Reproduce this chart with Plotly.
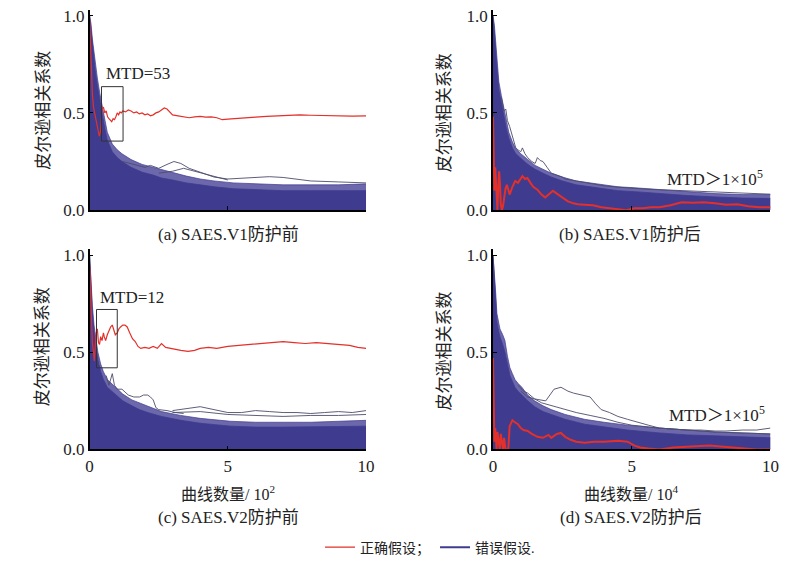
import plotly.graph_objects as go

# ---------------- data ----------------
# Panel (a): SAES.V1 before protection, x in 10^2 traces
A_env_x = [0, 0.05, 0.1, 0.2, 0.28, 0.37, 0.46, 0.55, 0.64, 0.82, 1.0, 1.17, 1.5, 1.9, 2.3, 2.6, 3.0, 3.5, 4.0, 4.5, 5.2, 6.0, 7.0, 8.0, 9.0, 10]
A_loose_y = [1.0, 0.96, 0.88, 0.76, 0.68, 0.6, 0.53, 0.46, 0.40, 0.34, 0.31, 0.29, 0.26, 0.235, 0.22, 0.205, 0.19, 0.175, 0.16, 0.15, 0.14, 0.135, 0.13, 0.13, 0.13, 0.135]
A_dense_y = [1.0, 0.93, 0.84, 0.72, 0.64, 0.56, 0.49, 0.42, 0.36, 0.30, 0.27, 0.25, 0.22, 0.195, 0.18, 0.165, 0.155, 0.14, 0.13, 0.12, 0.11, 0.105, 0.10, 0.10, 0.10, 0.10]
A_out1_x = [1.2, 1.6, 2.0, 2.2, 2.5, 2.8, 3.05, 3.3, 3.6, 4.0, 4.5, 5.0, 5.5, 6.0, 6.5, 7.0, 7.5, 8.0, 9.0, 10]
A_out1_y = [0.25, 0.235, 0.22, 0.23, 0.215, 0.235, 0.25, 0.24, 0.215, 0.195, 0.17, 0.16, 0.165, 0.17, 0.172, 0.168, 0.16, 0.15, 0.145, 0.14]
A_out2_x = [2.5, 3.0, 3.4, 3.8, 4.2, 4.6, 5.0]
A_out2_y = [0.19, 0.2, 0.215, 0.2, 0.185, 0.17, 0.155]
A_red_x = [0, 0.03, 0.06, 0.1, 0.14, 0.18, 0.22, 0.26, 0.3, 0.35, 0.4, 0.45, 0.5, 0.55, 0.6, 0.65, 0.7, 0.75, 0.8, 0.85,
           0.9, 0.95, 1.0, 1.05, 1.1, 1.15, 1.2, 1.3, 1.4, 1.5, 1.6, 1.7, 1.8, 1.9, 2.0, 2.1, 2.2, 2.3, 2.4, 2.5,
           2.6, 2.7, 2.8, 2.9, 3.0, 3.2, 3.4, 3.6, 3.8, 4.0, 4.2, 4.4, 4.6, 4.8, 5.0, 5.3, 5.6, 6.0, 6.4, 6.8,
           7.2, 7.6, 8.0, 8.5, 9.0, 9.5, 10]
A_red_y = [0.98, 0.85, 0.72, 0.60, 0.53, 0.50, 0.47, 0.44, 0.40, 0.38, 0.41, 0.52, 0.53, 0.50, 0.51, 0.48, 0.47, 0.46, 0.455, 0.47,
           0.465, 0.48, 0.50, 0.49, 0.505, 0.50, 0.51, 0.505, 0.515, 0.51, 0.50, 0.505, 0.495, 0.50, 0.49, 0.495, 0.485, 0.49, 0.50, 0.505,
           0.515, 0.525, 0.52, 0.505, 0.49, 0.485, 0.48, 0.475, 0.48, 0.482, 0.478, 0.48, 0.475, 0.465, 0.468, 0.472, 0.475, 0.478, 0.482, 0.485,
           0.488, 0.49, 0.488, 0.486, 0.484, 0.483, 0.485]

# Panel (b): SAES.V1 after protection, x in 10^4 traces
B_env_x = [0, 0.05, 0.1, 0.15, 0.21, 0.3, 0.39, 0.48, 0.57, 0.7, 0.82, 1.0, 1.17, 1.35, 1.52, 1.8, 2.1, 2.5, 3.0, 3.5, 4.0, 4.5, 5.1, 6.0, 7.0, 8.0, 9.0, 10]
B_loose_y = [1.0, 0.95, 0.86, 0.76, 0.66, 0.59, 0.53, 0.46, 0.40, 0.35, 0.315, 0.29, 0.27, 0.25, 0.23, 0.21, 0.19, 0.17, 0.15, 0.14, 0.13, 0.12, 0.115, 0.105, 0.095, 0.085, 0.08, 0.08]
B_dense_y = [1.0, 0.92, 0.82, 0.72, 0.62, 0.55, 0.49, 0.42, 0.37, 0.32, 0.29, 0.265, 0.245, 0.225, 0.21, 0.19, 0.17, 0.15, 0.13, 0.12, 0.11, 0.10, 0.095, 0.085, 0.075, 0.068, 0.062, 0.06]
B_out1_x = [0.3, 0.39, 0.46, 0.52, 0.6, 0.7, 0.82, 0.9, 1.0, 1.06, 1.15, 1.25, 1.4, 1.52, 1.6, 1.7, 1.8, 1.95, 2.1, 2.3, 2.5, 2.6, 2.8, 3.0, 3.5,
            4.0, 4.5, 5.0, 5.5, 6.0, 6.5, 7.0, 7.5, 8.0, 8.5, 9.0, 9.5, 10]
B_out1_y = [0.58, 0.51, 0.52, 0.46, 0.43, 0.38, 0.32, 0.31, 0.30, 0.32, 0.29, 0.27, 0.25, 0.24, 0.27, 0.255, 0.25, 0.22, 0.19, 0.18, 0.17, 0.16, 0.155, 0.15, 0.135,
            0.125, 0.118, 0.112, 0.108, 0.105, 0.102, 0.10, 0.097, 0.094, 0.09, 0.088, 0.085, 0.082]
B_red_x = [0, 0.02, 0.05, 0.08, 0.1, 0.13, 0.16, 0.19, 0.22, 0.25, 0.28, 0.32, 0.36, 0.4, 0.45, 0.5, 0.55, 0.6, 0.7, 0.8,
           0.9, 1.0, 1.06, 1.15, 1.24, 1.35, 1.45, 1.6, 1.75, 1.88, 2.0, 2.16, 2.3, 2.5, 2.7, 2.9, 3.05, 3.3, 3.6, 3.9,
           4.2, 4.5, 4.8, 5.1, 5.4, 5.7, 6.0, 6.4, 6.8, 7.2, 7.6, 8.0, 8.4, 8.8, 9.2, 9.6, 10]
B_red_y = [0.48, 0.25, 0.10, 0.22, 0.16, 0.04, 0.0, 0.12, 0.20, 0.14, 0.03, 0.0, 0.02, 0.06, 0.11, 0.13, 0.10, 0.08, 0.12, 0.15,
           0.14, 0.165, 0.175, 0.16, 0.165, 0.14, 0.12, 0.105, 0.08, 0.065, 0.08, 0.10, 0.085, 0.065, 0.045, 0.035, 0.03, 0.028, 0.025, 0.015,
           0.01, 0.005, 0.0, 0.01, 0.01, 0.015, 0.015, 0.025, 0.04, 0.038, 0.04, 0.035, 0.028, 0.03, 0.02, 0.015, 0.015]

# Panel (c): SAES.V2 before protection, x in 10^2 traces
C_env_x = [0, 0.05, 0.1, 0.16, 0.22, 0.3, 0.4, 0.5, 0.64, 0.8, 0.93, 1.2, 1.53, 1.8, 2.1, 2.6, 3.3, 4.0, 5.1, 6.0, 7.0, 8.0, 9.0, 10]
C_loose_y = [1.0, 0.86, 0.74, 0.64, 0.57, 0.50, 0.44, 0.40, 0.36, 0.34, 0.32, 0.285, 0.255, 0.24, 0.22, 0.195, 0.175, 0.16, 0.145, 0.14, 0.14, 0.14, 0.145, 0.15]
C_dense_y = [1.0, 0.83, 0.70, 0.60, 0.53, 0.46, 0.40, 0.36, 0.32, 0.30, 0.28, 0.25, 0.225, 0.205, 0.19, 0.17, 0.15, 0.135, 0.12, 0.115, 0.115, 0.115, 0.118, 0.12]
C_out1_x = [0.6, 0.7, 0.82, 0.9, 1.0, 1.17, 1.4, 1.6, 1.81, 1.95, 2.1, 2.2, 2.3, 2.4, 2.5, 2.8, 3.1, 3.4]
C_out1_y = [0.38, 0.33, 0.39, 0.33, 0.31, 0.31, 0.28, 0.27, 0.27, 0.28, 0.28, 0.27, 0.255, 0.215, 0.205, 0.2, 0.19, 0.185]
C_out2_x = [3.0, 3.5, 4.0, 4.5, 5.0, 5.5, 6.0, 6.5, 7.0, 7.5, 8.0, 8.5, 9.0, 9.5, 10]
C_out2_y = [0.20, 0.21, 0.22, 0.205, 0.19, 0.19, 0.20, 0.195, 0.19, 0.19, 0.185, 0.19, 0.195, 0.19, 0.20]
C_out3_x = [3.0, 4.0, 5.0, 6.0, 7.0, 8.0, 9.0, 10]
C_out3_y = [0.19, 0.195, 0.18, 0.175, 0.17, 0.175, 0.175, 0.18]
C_red_x = [0, 0.03, 0.06, 0.1, 0.14, 0.17, 0.2, 0.24, 0.28, 0.32, 0.36, 0.4, 0.45, 0.5, 0.53, 0.58, 0.64, 0.7, 0.76, 0.82,
           0.88, 0.93, 1.0, 1.06, 1.12, 1.2, 1.28, 1.36, 1.45, 1.55, 1.65, 1.75, 1.85, 2.0, 2.15, 2.3, 2.45, 2.6, 2.75, 2.9,
           3.1, 3.3, 3.56, 3.8, 4.0, 4.3, 4.6, 5.0, 5.4, 5.8, 6.2, 6.6, 7.0, 7.4, 7.8, 8.2, 8.6, 9.0, 9.4, 9.7, 10]
C_red_y = [0.95, 0.80, 0.66, 0.55, 0.50, 0.455, 0.52, 0.60, 0.62, 0.55, 0.54, 0.58, 0.56, 0.60, 0.58, 0.56, 0.59, 0.61, 0.63, 0.64,
           0.61, 0.59, 0.60, 0.62, 0.63, 0.64, 0.64, 0.63, 0.60, 0.57, 0.555, 0.53, 0.52, 0.525, 0.52, 0.53, 0.52, 0.545, 0.525, 0.52,
           0.515, 0.51, 0.505, 0.51, 0.52, 0.525, 0.52, 0.53, 0.535, 0.54, 0.545, 0.55, 0.555, 0.55, 0.545, 0.55, 0.545, 0.54, 0.535, 0.525, 0.52]

# Panel (d): SAES.V2 after protection, x in 10^4 traces
D_env_x = [0, 0.05, 0.1, 0.14, 0.2, 0.25, 0.35, 0.43, 0.52, 0.61, 0.7, 0.79, 0.9, 1.04, 1.25, 1.5, 1.8, 2.1, 2.6, 3.3, 4.0, 4.85, 6.0, 7.0, 8.0, 9.0, 10]
D_loose_y = [1.0, 0.92, 0.80, 0.70, 0.65, 0.62, 0.59, 0.56, 0.48, 0.42, 0.39, 0.36, 0.34, 0.32, 0.28, 0.25, 0.225, 0.205, 0.18, 0.155, 0.14, 0.125, 0.11, 0.10, 0.09, 0.085, 0.08]
D_dense_y = [1.0, 0.88, 0.75, 0.66, 0.61, 0.58, 0.54, 0.50, 0.44, 0.38, 0.35, 0.32, 0.30, 0.28, 0.25, 0.22, 0.195, 0.18, 0.155, 0.13, 0.115, 0.10, 0.085, 0.075, 0.07, 0.065, 0.06]
D_out1_x = [1.0, 1.25, 1.5, 1.75, 1.9, 2.0, 2.1, 2.2, 2.45, 2.7, 2.9, 3.2, 3.5, 3.7, 3.9, 4.2, 4.5, 4.85, 5.2, 5.6, 6.0, 6.5, 7.0, 7.5, 8.0, 8.4, 9.0, 9.5, 10]
D_out1_y = [0.30, 0.27, 0.26, 0.255, 0.25, 0.27, 0.29, 0.31, 0.32, 0.30, 0.29, 0.28, 0.27, 0.235, 0.205, 0.19, 0.17, 0.155, 0.14, 0.125, 0.11, 0.105, 0.10, 0.10, 0.095, 0.095, 0.10, 0.10, 0.11]
D_out2_x = [0.9, 1.1, 1.25, 1.5, 1.75, 2.0, 2.5, 3.0, 3.5, 4.0, 4.5, 5.0, 6.0, 7.0, 8.0, 9.0, 10]
D_out2_y = [0.33, 0.30, 0.29, 0.26, 0.24, 0.23, 0.21, 0.19, 0.175, 0.16, 0.14, 0.125, 0.11, 0.10, 0.09, 0.085, 0.08]
D_red_x = [0, 0.02, 0.05, 0.08, 0.1, 0.13, 0.16, 0.2, 0.24, 0.28, 0.32, 0.36, 0.4, 0.45, 0.5, 0.55, 0.6, 0.7, 0.79, 0.9,
           1.0, 1.1, 1.25, 1.4, 1.6, 1.8, 2.0, 2.1, 2.3, 2.45, 2.6, 2.8, 3.0, 3.3, 3.65, 4.0, 4.5, 4.85, 5.1, 5.3,
           5.6, 6.0, 6.5, 7.0, 7.5, 7.8, 8.2, 8.6, 9.0, 9.5, 10]
D_red_y = [0.47, 0.12, 0.04, 0.11, 0.07, 0.0, 0.09, 0.05, 0.0, 0.08, 0.03, 0.0, 0.06, 0.0, 0.0, 0.0, 0.12, 0.15, 0.14, 0.13,
           0.11, 0.10, 0.095, 0.08, 0.065, 0.06, 0.075, 0.06, 0.08, 0.085, 0.065, 0.05, 0.04, 0.035, 0.04, 0.04, 0.045, 0.04, 0.02, 0.01,
           0.005, 0.0, 0.01, 0.015, 0.02, 0.02, 0.015, 0.01, 0.005, 0.0, 0.0]

# highlight boxes (MTD regions) and labels
A_box = (0.43, 1.21, 0.355, 0.635)
C_box = (0.25, 1.0, 0.42, 0.72)
A_mtd = ("MTD=53", 1.74, 0.705)
B_mtd = ("MTD\uff1e1\u00d710<sup>5</sup>", 8.0, 0.165)
C_mtd = ("MTD=12", 1.53, 0.78)
D_mtd = ("MTD\uff1e1\u00d710<sup>5</sup>", 8.06, 0.18)

captions = ["(a) SAES.V1防护前", "(b) SAES.V1防护后", "(c) SAES.V2防护前", "(d) SAES.V2防护后"]
ylabel = "皮尔逊相关系数"
xlabels = ["曲线数量/ 10<sup>2</sup>", "曲线数量/ 10<sup>4</sup>"]
y_ticks = [0, 0.5, 1.0]
y_ticktext = ["0.0", "0.5", "1.0"]
x_ticks = [0, 5, 10]
legend_names = ["正确假设；", "错误假设."]

# ---------------- styling ----------------
W, H = 808, 565
FONT = '"Liberation Serif", "Times New Roman", "Noto Sans CJK SC", serif'
BLUE = "#3f3c90"
BLUE_LOOSE = "rgba(66,62,148,0.78)"
OUT = "#4c4c6c"
RED = "#e3302a"

fig = go.Figure()

panels = [
    ("x", "y", A_env_x, A_loose_y, A_dense_y, [(A_out1_x, A_out1_y), (A_out2_x, A_out2_y)], A_red_x, A_red_y, 1.2),
    ("x2", "y2", B_env_x, B_loose_y, B_dense_y, [(B_out1_x, B_out1_y)], B_red_x, B_red_y, 2.0),
    ("x3", "y3", C_env_x, C_loose_y, C_dense_y, [(C_out1_x, C_out1_y), (C_out2_x, C_out2_y), (C_out3_x, C_out3_y)], C_red_x, C_red_y, 1.2),
    ("x4", "y4", D_env_x, D_loose_y, D_dense_y, [(D_out1_x, D_out1_y), (D_out2_x, D_out2_y)], D_red_x, D_red_y, 2.0),
]

for i, (xa, ya, ex, ly, dy, outs, rx, ry, rw) in enumerate(panels):
    fig.add_trace(go.Scatter(x=ex, y=ly, xaxis=xa, yaxis=ya, mode="lines", fill="tozeroy",
                             fillcolor=BLUE_LOOSE, line=dict(color="rgba(66,62,148,0.9)", width=0.8),
                             showlegend=False, hoverinfo="skip"))
    fig.add_trace(go.Scatter(x=ex, y=dy, xaxis=xa, yaxis=ya, mode="lines", fill="tozeroy",
                             fillcolor=BLUE, line=dict(color=BLUE, width=0.8),
                             showlegend=False, hoverinfo="skip"))
    for ox, oy in outs:
        fig.add_trace(go.Scatter(x=ox, y=oy, xaxis=xa, yaxis=ya, mode="lines",
                                 line=dict(color=OUT, width=0.9), showlegend=False, hoverinfo="skip"))
    fig.add_trace(go.Scatter(x=rx, y=ry, xaxis=xa, yaxis=ya, mode="lines",
                             line=dict(color=RED, width=rw), name=legend_names[0],
                             showlegend=(i == 0), legendrank=1))

fig.add_trace(go.Scatter(x=[None], y=[None], mode="lines", line=dict(color=BLUE, width=2),
                         name=legend_names[1], showlegend=True, legendrank=2))

xdomL = [87 / W, 368 / W]
xdomR = [497 / W, 779 / W]
ydomT = [(H - 212) / H, (H - 7) / H]
ydomB = [(H - 457) / H, (H - 252) / H]

axis_common = dict(showline=True, linecolor="black", linewidth=1.5, ticks="inside", ticklen=4,
                   tickcolor="black", showgrid=False, zeroline=False, mirror=False,
                   tickfont=dict(family=FONT, size=17, color="#222"))

fig.update_layout(
    width=W, height=H, autosize=False,
    margin=dict(l=0, r=0, t=0, b=0),
    paper_bgcolor="white", plot_bgcolor="white",
    font=dict(family=FONT, size=16, color="#222"),
    xaxis=dict(domain=xdomL, anchor="y", range=[0, 10], tickvals=[5], showticklabels=False, **axis_common),
    yaxis=dict(domain=ydomT, anchor="x", range=[0, 1.03], tickvals=y_ticks, ticktext=y_ticktext, **axis_common),
    xaxis2=dict(domain=xdomR, anchor="y2", range=[0, 10], tickvals=[5], showticklabels=False, **axis_common),
    yaxis2=dict(domain=ydomT, anchor="x2", range=[0, 1.03], tickvals=y_ticks, ticktext=y_ticktext, **axis_common),
    xaxis3=dict(domain=xdomL, anchor="y3", range=[0, 10], tickvals=x_ticks, **axis_common),
    yaxis3=dict(domain=ydomB, anchor="x3", range=[0, 1.03], tickvals=y_ticks, ticktext=y_ticktext, **axis_common),
    xaxis4=dict(domain=xdomR, anchor="y4", range=[0, 10], tickvals=x_ticks, **axis_common),
    yaxis4=dict(domain=ydomB, anchor="x4", range=[0, 1.03], tickvals=y_ticks, ticktext=y_ticktext, **axis_common),
    legend=dict(orientation="h", x=433 / W, xanchor="center", y=(H - 541) / H, yanchor="top",
                font=dict(family=FONT, size=14, color="#222"), bgcolor="rgba(0,0,0,0)",
                itemwidth=30, tracegroupgap=0),
    showlegend=True,
)

# boxes
for (x0, x1, y0, y1), xr, yr in [(A_box, "x", "y"), (C_box, "x3", "y3")]:
    fig.add_shape(type="rect", xref=xr, yref=yr, x0=x0, x1=x1, y0=y0, y1=y1,
                  line=dict(color="#333", width=1), fillcolor="rgba(0,0,0,0)")

# MTD labels
for (txt, tx, ty), xr, yr in [(A_mtd, "x", "y"), (B_mtd, "x2", "y2"), (C_mtd, "x3", "y3"), (D_mtd, "x4", "y4")]:
    fig.add_annotation(text=txt, x=tx, y=ty, xref=xr, yref=yr, showarrow=False,
                       font=dict(family=FONT, size=17, color="#222"), xanchor="center", yanchor="middle")

# y titles
for cx, cy in [(40, 110), (448, 112), (40, 352), (448, 356)]:
    fig.add_annotation(text=ylabel, x=cx / W, y=(H - cy) / H, xref="paper", yref="paper", showarrow=False,
                       textangle=-90, font=dict(family=FONT, size=17, color="#222"),
                       xanchor="center", yanchor="middle")

# captions
for txt, cx, cy in [(captions[0], 228, 237), (captions[1], 636, 237), (captions[2], 228, 527), (captions[3], 637, 527)]:
    fig.add_annotation(text=txt, x=cx / W, y=(H - cy) / H, xref="paper", yref="paper", showarrow=False,
                       font=dict(family=FONT, size=17, color="#222"), xanchor="center", yanchor="middle")

# x titles
for txt, cx in [(xlabels[0], 228), (xlabels[1], 637)]:
    fig.add_annotation(text=txt, x=cx / W, y=(H - 502) / H, xref="paper", yref="paper", showarrow=False,
                       font=dict(family=FONT, size=16, color="#222"), xanchor="center", yanchor="middle")

fig.write_html("out.html")
